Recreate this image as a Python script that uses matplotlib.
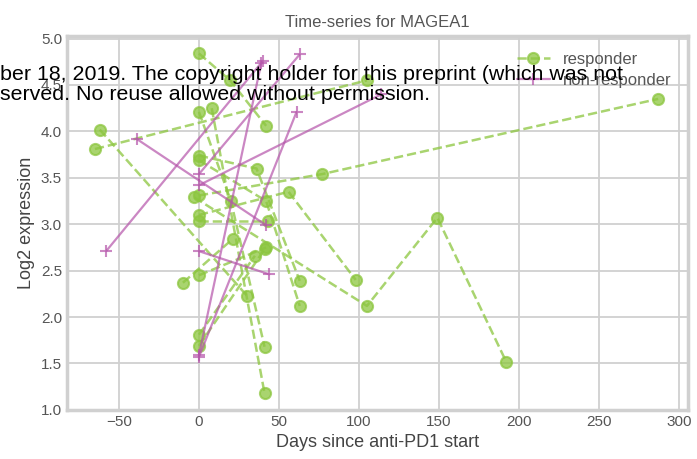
import matplotlib
matplotlib.use("Agg")
import matplotlib.pyplot as plt

# responder patients: (days, log2 expression)
resp_days = [
    [-65, 105],
    [-62, 30],
    [0, 19.5, 42],
    [0, 20, 41],
    [8, 41],
    [0, 36, 63],
    [0, 42, 63],
    [-3, 105, 149, 192],
    [0, 77, 287],
    [0, 56, 98],
    [0, 43],
    [-10, 21],
    [0, 42],
    [0, 35],
    [0, 41],
]
resp_vals = [
    [3.81, 4.55],
    [4.02, 2.23],
    [4.84, 4.55, 4.06],
    [4.21, 3.25, 1.68],
    [4.25, 1.18],
    [3.74, 3.60, 2.39],
    [3.69, 3.25, 2.12],
    [3.29, 2.12, 3.07, 1.52],
    [3.31, 3.54, 4.35],
    [3.10, 3.35, 2.40],
    [3.04, 3.04],
    [2.37, 2.84],
    [2.45, 2.75],
    [1.81, 2.66],
    [1.69, 2.73],
]

# non-responder patients
nonresp_days = [
    [-58, 40],
    [-39, 42],
    [0, 63],
    [0, 114],
    [0, 44],
    [0, 39],
    [0, 61],
]
nonresp_vals = [
    [2.71, 4.76],
    [3.92, 2.99],
    [3.54, 4.83],
    [3.42, 4.40],
    [2.71, 2.46],
    [1.59, 4.74],
    [1.57, 4.21],
]

green = "#8cc63f"
purple = "#b555aa"

plt.style.use("seaborn-v0_8-whitegrid")
plt.rcParams["font.family"] = ["Liberation Sans", "DejaVu Sans"]

fig = plt.figure(figsize=(6.97, 4.59), dpi=100)
ax = fig.add_axes([0.096, 0.107, 0.891, 0.815])

for i in range(len(resp_days)):
    ax.plot(resp_days[i], resp_vals[i], "--o", color=green, alpha=0.75,
            lw=1.8, ms=8, mew=1.5, label="responder" if i == 0 else None)
for i in range(len(nonresp_days)):
    ax.plot(nonresp_days[i], nonresp_vals[i], "-+", color=purple, alpha=0.7,
            lw=1.6, ms=9, mew=1.5, label="non-responder" if i == 0 else None)

ax.set_xlim(-82.5, 305.6)
ax.set_ylim(1.0, 5.03)
ax.set_xticks([-50, 0, 50, 100, 150, 200, 250, 300])
ax.set_yticks([1.0, 1.5, 2.0, 2.5, 3.0, 3.5, 4.0, 4.5, 5.0])
ax.set_yticklabels(["1.0", "1.5", "2.0", "2.5", "3.0", "3.5", "4.0", "4.5", "5.0"])
ax.tick_params(labelsize=11, labelcolor="#555555")
ax.grid(color="#d0d0d0", lw=1.3)
for s in ax.spines.values():
    s.set_visible(True)
    s.set_color("#d0d0d0")
    s.set_linewidth(2.5)

ax.set_xlabel("Days since anti-PD1 start", fontsize=13, color="#444444")
ax.set_ylabel("Log2 expression", fontsize=13, color="#444444")
ax.set_title("Time-series for MAGEA1", fontsize=12, color="#555555")
leg = ax.legend(loc="upper right", bbox_to_anchor=(0.974, 0.956), fontsize=12,
                frameon=False, borderaxespad=0, borderpad=0,
                handlelength=2.0, labelspacing=0.35)
for t in leg.get_texts():
    t.set_color("#555555")

fig.text(0.0, 1 - 75 / 459, "ber 18, 2019. The copyright holder for this preprint (which was not",
         fontsize=15.4, color="black", va="center", ha="left")
fig.text(0.0, 1 - 95 / 459, "served. No reuse allowed without permission.",
         fontsize=15.4, color="black", va="center", ha="left")

fig.savefig("out.png", dpi=100)
